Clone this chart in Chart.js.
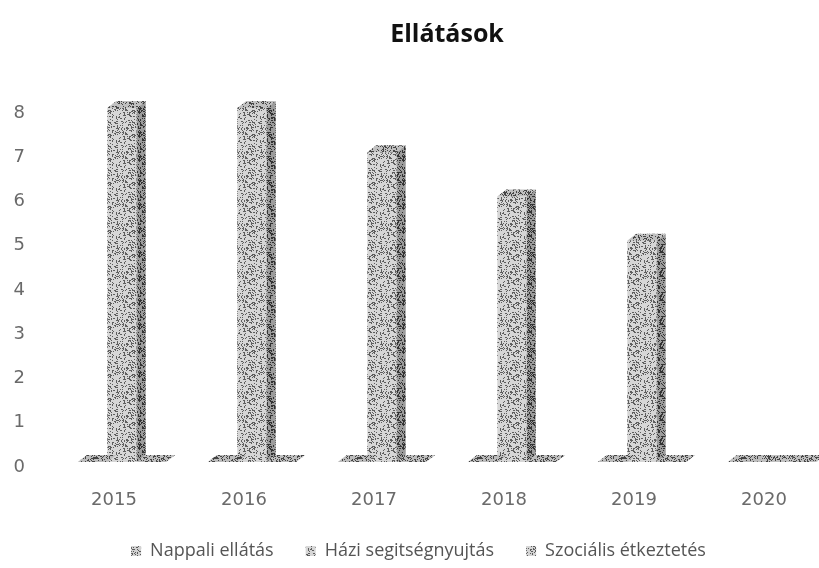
<!DOCTYPE html>
<html>
<head>
<meta charset="utf-8">
<title>Ellátások</title>
<script src="https://cdn.jsdelivr.net/npm/chart.js@4.4.0/dist/chart.umd.min.js"></script>
<style>
  html, body { margin: 0; padding: 0; background: #fff; overflow: hidden; }
  #wrap { position: relative; width: 880px; height: 568px; }
</style>
</head>
<body>
<div id="wrap"><canvas id="c" width="880" height="568"></canvas></div>
<script>
// ---- data ----
const years = ['2015', '2016', '2017', '2018', '2019', '2020'];
const seriesNames = ['Nappali ellátás', 'Házi segitségnyujtás', 'Szociális étkeztetés'];
const nappaliEllatas = [0, 0, 0, 0, 0, 0];
const haziSegitsegnyujtas = [8, 8, 7, 6, 5, 0];
const szocialisEtkeztetes = [0, 0, 0, 0, 0, 0];
const yTickValues = [0, 1, 2, 3, 4, 5, 6, 7, 8];

// ---- stippled grey textures for the box faces ----
const canvas = document.getElementById('c');
const ctx = canvas.getContext('2d');

function grain(i, j, s) {
  const v = Math.sin(i * 12.9898 + j * 78.233 + s * 37.719) * 43758.5453;
  return v - Math.floor(v);
}
function stipple(light, dark, density, seed) {
  const t = document.createElement('canvas');
  t.width = t.height = 24;
  const g = t.getContext('2d');
  g.fillStyle = light;
  g.fillRect(0, 0, 24, 24);
  g.fillStyle = dark;
  for (let i = 0; i < 24; i++) {
    for (let j = 0; j < 24; j++) {
      if (grain(i, j, seed) < density) g.fillRect(i, j, 1, 1);
    }
  }
  return ctx.createPattern(t, 'repeat');
}

const faces = [
  { front: stipple('#d2d2d2', '#5a5a5a', 0.27, 1), side: stipple('#9a9a9a', '#363636', 0.33, 2), top: stipple('#bcbcbc', '#454545', 0.30, 3) },
  { front: stipple('#d6d6d6', '#5e5e5e', 0.27, 4), side: stipple('#9c9c9c', '#333333', 0.35, 5), top: stipple('#c0c0c0', '#454545', 0.30, 6) },
  { front: stipple('#d4d4d4', '#5c5c5c', 0.25, 7), side: stipple('#9a9a9a', '#363636', 0.33, 8), top: stipple('#bebebe', '#474747', 0.29, 9) }
];

// depth of each box (right / up)
const DX = 9, DY = 7;

// draws the side and top faces of every bar so the columns read as boxes
const boxes3d = {
  id: 'boxes3d',
  afterDatasetsDraw(chart) {
    const c = chart.ctx;
    chart.data.datasets.forEach((ds, di) => {
      const meta = chart.getDatasetMeta(di);
      const f = faces[di];
      meta.data.forEach((bar) => {
        const p = bar.getProps(['x', 'y', 'base', 'width'], true);
        const l = p.x - p.width / 2, r = p.x + p.width / 2;
        const top = Math.min(p.y, p.base), bot = Math.max(p.y, p.base);
        c.save();
        if (bot - top > 0.5) {
          c.beginPath();
          c.moveTo(r, bot);
          c.lineTo(r + DX, bot - DY);
          c.lineTo(r + DX, top - DY);
          c.lineTo(r, top);
          c.closePath();
          c.fillStyle = f.side;
          c.fill();
        }
        c.beginPath();
        c.moveTo(l, top);
        c.lineTo(r, top);
        c.lineTo(r + DX, top - DY);
        c.lineTo(l + DX, top - DY);
        c.closePath();
        c.fillStyle = f.top;
        c.fill();
        c.restore();
      });
    });
  }
};

const axisFont = { family: 'DejaVu Sans', size: 18 };

new Chart(ctx, {
  type: 'bar',
  data: {
    labels: years,
    datasets: [
      { label: seriesNames[0], data: nappaliEllatas, backgroundColor: faces[0].front },
      { label: seriesNames[1], data: haziSegitsegnyujtas, backgroundColor: faces[1].front },
      { label: seriesNames[2], data: szocialisEtkeztetes, backgroundColor: faces[2].front }
    ]
  },
  options: {
    responsive: false,
    animation: false,
    devicePixelRatio: 1,
    categoryPercentage: 0.68,
    barPercentage: 1.0,
    layout: { padding: { left: 0, right: 43, top: 0, bottom: -2 } },
    plugins: {
      title: {
        display: true,
        fullSize: false,
        text: 'Ellátások',
        color: '#111',
        font: { family: 'Open Sans', size: 25, weight: 'bold' },
        padding: { top: 20, bottom: 58 }
      },
      legend: {
        position: 'bottom',
        labels: {
          boxWidth: 10,
          boxHeight: 10,
          padding: 32,
          color: '#555',
          font: { family: 'Open Sans', size: 18 }
        }
      },
      tooltip: { enabled: false }
    },
    scales: {
      x: {
        grid: { display: false, drawTicks: false },
        border: { display: false },
        ticks: { padding: 28, labelOffset: -8, color: '#6a6a6a', font: axisFont },
        afterFit(scale) { scale.height = 48; }
      },
      y: {
        min: 0,
        max: 8,
        grid: { display: false, drawTicks: false },
        border: { display: false },
        afterBuildTicks(scale) { scale.ticks = yTickValues.map(v => ({ value: v })); },
        ticks: { padding: 32, labelOffset: 5, color: '#6a6a6a', font: axisFont },
        afterFit(scale) { scale.width = 57; }
      }
    }
  },
  plugins: [boxes3d]
});
</script>
</body>
</html>
